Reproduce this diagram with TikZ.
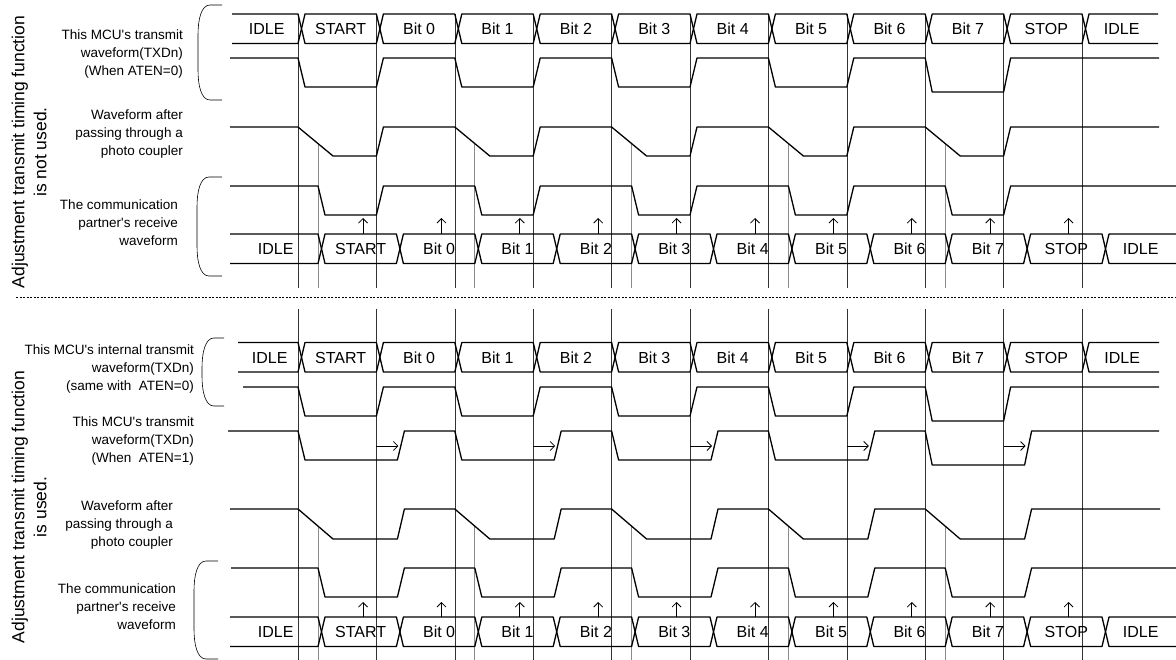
\documentclass[tikz,border=0pt]{standalone}
\usepackage{fontspec}
\setmainfont{Liberation Sans}
\usetikzlibrary{arrows.meta}

\begin{document}
\begin{tikzpicture}[x=1pt,y=-1pt,
  sig/.style={black,line width=1.3pt,line join=round},
  guide/.style={black!80,line width=0.5pt},
  guidelt/.style={black!45,line width=0.7pt},
  brack/.style={black,line width=0.6pt},
  sample/.style={-{Straight Barb[length=4.5pt,width=9pt]},black,line width=0.8pt},
  buslbl/.style={font=\fontsize{16}{16}\selectfont,text height=11.5pt,text depth=0pt,inner sep=0pt},
  sidelbl/.style={font=\fontsize{13.5}{18}\selectfont,align=right,anchor=east,inner sep=0pt},
  biglbl/.style={font=\fontsize{17.5}{22}\selectfont,align=center,rotate=90,inner sep=0pt}]
\useasboundingbox (0,0) rectangle (1176,660);
\def\bz{298}
\def\bw{78.4}

% Bit boundaries and delayed sampling lines
\foreach \k in {0,...,10}{
  \draw[guide] ({\bz+\bw*\k},14) -- ({\bz+\bw*\k},288);
  \draw[guide] ({\bz+\bw*\k},309) -- ({\bz+\bw*\k},660);
}
\foreach \k in {0,2,4,6,8}{
  \draw[guidelt] ({\bz+\bw*\k+20},144) -- ({\bz+\bw*\k+20},288);
  \draw[guidelt] ({\bz+\bw*\k+20},526) -- ({\bz+\bw*\k+20},660);
}

% Separator
\draw[black,line width=0.8pt,dash pattern=on 2pt off 1.5pt] (16,297.5) -- (1176,297.5);

% Bus rows (frame labels)
\foreach \ytop/\off/\xs/\xe [count=\r] in {14/3.5/232/1158,234/23.5/230/1176,342.5/3.5/238/1159,617/23.5/230/1176}{
  \pgfmathsetmacro{\ylo}{\ytop+29.5}
  \pgfmathsetmacro{\ymid}{\ytop+14.75}
  \pgfmathsetmacro{\cfirst}{\bz+\off}
  \pgfmathsetmacro{\clast}{\bz+\bw*10+\off}
  \draw[sig] (\xs,\ytop) -- ({\cfirst-3.5},\ytop) -- (\cfirst,\ymid) -- ({\cfirst-3.5},\ylo) -- (\xs,\ylo);
  \draw[sig] (\xe,\ytop) -- ({\clast+3.5},\ytop) -- (\clast,\ymid) -- ({\clast+3.5},\ylo) -- (\xe,\ylo);
  \node[buslbl] (bus\r-idleA) at ({(\xs+\cfirst)/2},\ymid) {IDLE};
  \node[buslbl] (bus\r-idleB) at ({(\xe+\clast)/2},\ymid) {IDLE};
  \foreach \t [count=\k from 0] in {START,Bit 0,Bit 1,Bit 2,Bit 3,Bit 4,Bit 5,Bit 6,Bit 7,STOP}{
    \pgfmathsetmacro{\ca}{\bz+\bw*\k+\off}
    \pgfmathsetmacro{\cb}{\ca+\bw}
    \draw[sig] (\ca,\ymid) -- ({\ca+3.5},\ytop) -- ({\cb-3.5},\ytop) -- (\cb,\ymid)
      -- ({\cb-3.5},\ylo) -- ({\ca+3.5},\ylo) -- cycle;
    \node[buslbl] (bus\r-\k) at ({(\ca+\cb)/2},\ymid) {\t};
  }
}

% Upper half: waveforms
\draw[sig] (230,58) foreach \k/\lo in {0/87,2/87,4/87,6/87,8/92}{
  -- ({\bz+\bw*\k},58) -- ({\bz+\bw*\k+7},\lo) -- ({\bz+\bw*(\k+1)},\lo) -- ({\bz+\bw*(\k+1)+7},58)} -- (1159,58);
\draw[sig] (230,127) foreach \k in {0,2,4,6,8}{
  -- ({\bz+\bw*\k},127) -- ({\bz+\bw*\k+35},156) -- ({\bz+\bw*(\k+1)},156) -- ({\bz+\bw*(\k+1)+7},127)} -- (1159,127);
\draw[sig] (230,186) foreach \k in {0,2,4,6,8}{
  -- ({\bz+\bw*\k+20},186) -- ({\bz+\bw*\k+27},215) -- ({\bz+\bw*(\k+1)},215) -- ({\bz+\bw*(\k+1)+7},186)} -- (1176,186);

% Lower half: waveforms
\draw[sig] (243,387) foreach \k/\lo in {0/416,2/416,4/416,6/416,8/421}{
  -- ({\bz+\bw*\k},387) -- ({\bz+\bw*\k+7},\lo) -- ({\bz+\bw*(\k+1)},\lo) -- ({\bz+\bw*(\k+1)+7},387)} -- (1159,387);
\draw[sig] (228,431) foreach \k/\lo in {0/460,2/460,4/460,6/460,8/465}{
  -- ({\bz+\bw*\k},431) -- ({\bz+\bw*\k+7},\lo) -- ({\bz+\bw*(\k+1)+21},\lo) -- ({\bz+\bw*(\k+1)+28},431)} -- (1159,431);
\draw[sig] (230,509) foreach \k in {0,2,4,6,8}{
  -- ({\bz+\bw*\k},509) -- ({\bz+\bw*\k+35},539) -- ({\bz+\bw*(\k+1)+21},539) -- ({\bz+\bw*(\k+1)+28},509)} -- (1160,509);
\draw[sig] (231,568) foreach \k in {0,2,4,6,8}{
  -- ({\bz+\bw*\k+20},568) -- ({\bz+\bw*\k+27},597) -- ({\bz+\bw*(\k+1)+21},597) -- ({\bz+\bw*(\k+1)+28},568)} -- (1176,568);

% Delay arrows and sampling points
\foreach \k in {1,3,5,7,9}
  \draw[sample] ({\bz+\bw*\k},446) -- ({\bz+\bw*\k+22},446);
\foreach \k in {0,...,9}{
  \draw[sample] ({\bz+\bw*\k+65},234) -- ({\bz+\bw*\k+65},218);
  \draw[sample] ({\bz+\bw*\k+65},617) -- ({\bz+\bw*\k+65},602);
}

% Brackets
\foreach \xl/\xr/\ya/\yb in {198/222/5/100,197/222/177/276,202/224/338/406,194/218/561/659}
  \draw[brack] (\xr,\ya) -- ({\xl+12},\ya) .. controls ({\xl+3},\ya) and (\xl,{\ya+15}) .. (\xl,{\ya+30})
    -- (\xl,{\yb-30}) .. controls (\xl,{\yb-15}) and ({\xl+3},\yb) .. ({\xl+12},\yb) -- (\xr,\yb);

% Row labels
\node[sidelbl] (txa) at (183,54) {This MCU\textquotesingle s transmit\\waveform(TXDn)\\(When ATEN=0)};
\node[sidelbl] (pca) at (183,134) {Waveform after\\passing through a\\photo coupler};
\node[sidelbl] (rxa) at (178,223) {The communication\\partner\textquotesingle s receive\\waveform};
\node[sidelbl] (itxb) at (194,369) {This MCU\textquotesingle s internal transmit\\waveform(TXDn)\\(same with\ \ ATEN=0)};
\node[sidelbl] (txb) at (194,441) {This MCU\textquotesingle s transmit\\waveform(TXDn)\\(When\ \ ATEN=1)};
\node[sidelbl] (pcb) at (173,525) {Waveform after\\passing through a\\photo coupler};
\node[sidelbl] (rxb) at (176,607) {The communication\\partner\textquotesingle s receive\\waveform};

\node[biglbl] (adja) at (29,152) {Adjustment transmit timing function\\is not used.};
\node[biglbl] (adjb) at (29,507) {Adjustment transmit timing function\\is used.};

\end{tikzpicture}
\end{document}
